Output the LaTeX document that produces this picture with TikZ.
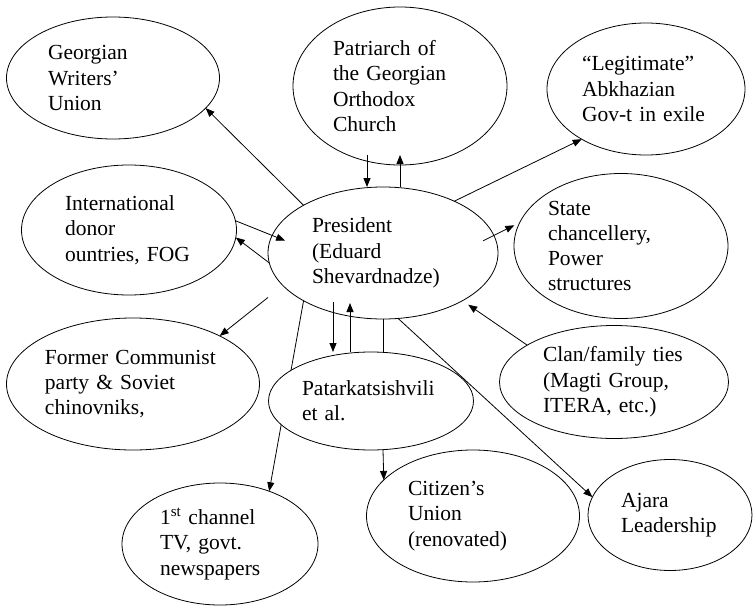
\documentclass[tikz,border=0pt]{standalone}
\usepackage{fontspec}
\setmainfont{Liberation Serif}
\usetikzlibrary{shapes.geometric,arrows.meta,backgrounds}

\begin{document}
\begin{tikzpicture}[x=1pt,y=-1pt,
    actor/.style={ellipse,draw,line width=0.8pt,inner sep=0pt,outer sep=0pt,align=left,
        font=\fontsize{21.5}{25.3}\selectfont},
    link/.style={line width=0.8pt,-{Triangle[length=9pt,width=7pt]}}]
    \useasboundingbox (0,0) rectangle (756,613);
    %actors
    \node[actor,minimum width=213pt,minimum height=122pt,text width=130pt] (writers) at (113,78) {Georgian\\Writers'\\Union};
    \node[actor,minimum width=214pt,minimum height=158pt,text width=134pt] (patriarch) at (400,86) {Patriarch of\\the Georgian\\Orthodox\\Church};
    \node[actor,minimum width=198pt,minimum height=132pt,text width=128pt] (legit) at (646,89) {``Legitimate''\\Abkhazian\\Gov-t in exile};
    \node[actor,minimum width=215pt,minimum height=130pt,text width=128pt] (donors) at (129,230) {International\\donor\\ountries, FOG};
    \node[actor,minimum width=230pt,minimum height=132pt,text width=142pt] (pres) at (383,253) {President\\(Eduard\\Shevardnadze)};
    \node[actor,minimum width=214pt,minimum height=145pt,text width=146pt] (state) at (621,246) {State\\chancellery,\\Power\\structures};
    \node[actor,minimum width=253pt,minimum height=132pt,text width=176pt] (former) at (133,384) {Former Communist\\party \& Soviet\\chinovniks,};
    \node[actor,fill=white,minimum width=205pt,minimum height=98pt,text width=138pt] (patark) at (371,401) {Patarkatsishvili\\et al.};
    \node[actor,minimum width=229pt,minimum height=113pt,text width=142pt] (clan) at (614,382) {Clan/family ties\\(Magti Group,\\ITERA, etc.)};
    \node[actor,minimum width=196pt,minimum height=122pt,text width=120pt] (tv) at (220,544) {1\textsuperscript{st} channel\\TV, govt.\\newspapers};
    \node[actor,minimum width=213pt,minimum height=132pt,text width=130pt] (citizens) at (473,516) {Citizen's\\Union\\(renovated)};
    \node[actor,minimum width=164pt,minimum height=111pt,text width=98pt] (ajara) at (670,515) {Ajara\\Leadership};
    %ties of the president
    \draw[link] (pres.149) -- (writers.-18);
    \draw[link] ([xshift=-33pt,yshift=10pt]patriarch.south) -- ([xshift=-16pt]pres.north);
    \draw[link] ([xshift=17pt]pres.north) -- ([yshift=10pt]patriarch.south);
    \draw[link] (pres.36) -- (legit.-142);
    \draw[link,shorten >=-14pt] (donors.5) -- (pres.171);
    \draw[link] (pres.-175) -- (donors.-4);
    \draw[link,shorten <=-12pt,shorten >=6pt] (pres.9) -- (state.167);
    \draw[link,shorten <=19pt] (pres.-162) -- (former.29);
    \draw[link] ([xshift=-50pt,yshift=17pt]pres.south) -- ([xshift=-38pt]patark.north);
    \draw[link] ([xshift=-21pt]patark.north) -- ([xshift=-33pt,yshift=16pt]pres.south);
    \draw[line width=0.8pt] (pres.south) -- ([xshift=12pt]patark.north);
    \draw[link] ([xshift=12pt]patark.south) -- (citizens.158);
    \draw[link] (pres.-77) -- (ajara.167);
    \draw[link,shorten >=7pt] (clan.157) -- (pres.-31);
    %1st channel, behind Patarkatsishvili
    \begin{scope}[on background layer]
        \draw[link] (pres.-149) -- (tv.47);
    \end{scope}
\end{tikzpicture}
\end{document}
